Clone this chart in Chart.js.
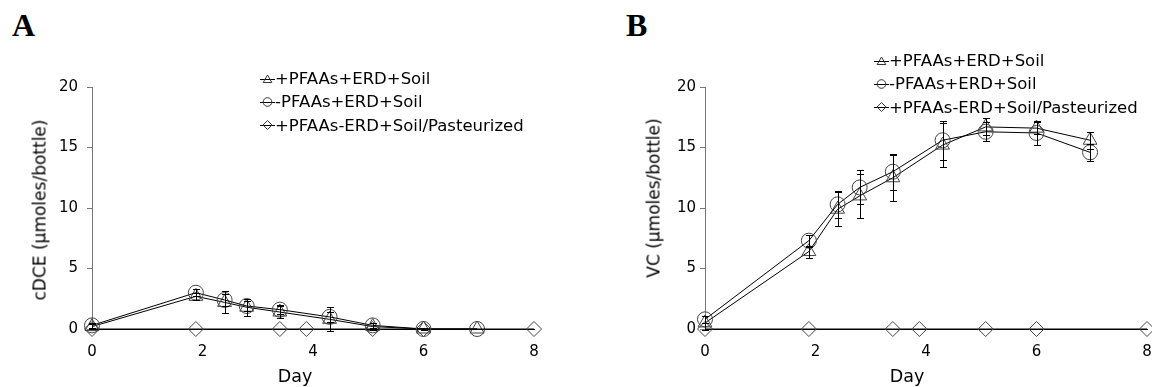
<!DOCTYPE html>
<html>
<head>
<meta charset="utf-8">
<script src="https://cdn.jsdelivr.net/npm/chart.js@4.4.0/dist/chart.umd.min.js"></script>
<style>
  html, body { margin: 0; padding: 0; background: #fff; }
  body { width: 1152px; height: 387px; position: relative; overflow: hidden;
         font-family: "DejaVu Sans", "Liberation Sans", Arial, sans-serif; color: #000; }
  canvas { position: absolute; top: 0; }
  .letter { position: absolute; font-family: "Liberation Serif", "Times New Roman", serif;
            font-weight: bold; font-size: 32px; line-height: 32px; }
  .ytitle { position: absolute; font-size: 17px; line-height: 17px; white-space: nowrap;
            transform: translate(-50%, -50%) rotate(-90deg); }
  .xtitle { position: absolute; font-size: 17.5px; line-height: 18px; white-space: nowrap;
            transform: translate(-50%, -50%); }
  .legend { position: absolute; font-size: 16.5px; }
  .legend .row { display: flex; align-items: center; height: 23.3px; white-space: nowrap; }
  .legend svg { display: block; }
</style>
</head>
<body>
<div class="letter" style="left:12px; top:9px;">A</div>
<div class="letter" style="left:626px; top:9px;">B</div>

<canvas id="chartA" width="576" height="387" style="left:0;"></canvas>
<canvas id="chartB" width="600" height="387" style="left:576px;"></canvas>

<div class="ytitle" style="left:40px; top:210px;">cDCE (µmoles/bottle)</div>
<div class="ytitle" style="left:654px; top:198px;">VC (µmoles/bottle)</div>
<div class="xtitle" style="left:295px; top:376px;">Day</div>
<div class="xtitle" style="left:907px; top:376px;">Day</div>

<div class="legend" id="legendA" style="left:260px; top:67px;"></div>
<div class="legend" id="legendB" style="left:874px; top:49px;"></div>

<script>
// ---- data ----
const days = [0, 1.88, 2.4, 2.8, 3.4, 4.3, 5.08, 6.0, 6.97];
const pasteurizedDays = [0, 1.88, 3.4, 3.88, 5.08, 6.0, 8.0];
const xTicks = [0, 2, 4, 6, 8];
const yTicks = [0, 5, 10, 15, 20];
const seriesLabels = ['+PFAAs+ERD+Soil', '-PFAAs+ERD+Soil', '+PFAAs-ERD+Soil/Pasteurized'];

// A: cDCE
const cdcePfaas = [0.2, 2.7, 2.2, 1.8, 1.4, 0.8, 0.2, 0, 0];
const cdcePfaasErr = [0.2, 0.3, 0.9, 0.7, 0.5, 1.0, 0.3, 0, 0];
const cdceNoPfaas = [0.3, 3.0, 2.4, 1.9, 1.6, 1.0, 0.3, 0, 0];
const cdceNoPfaasErr = [0.2, 0.3, 0.5, 0.4, 0.4, 0.4, 0.2, 0.1, 0];
const cdcePasteurized = [0, 0, 0, 0, 0, 0, 0];

// B: VC
const vcPfaas = [0.5, 6.4, 9.9, 11.0, 12.5, 15.2, 16.7, 16.6, 15.6];
const vcPfaasErr = [0.6, 0.5, 1.4, 1.8, 1.9, 1.8, 0.7, 0.5, 0.7];
const vcNoPfaas = [0.8, 7.3, 10.3, 11.7, 13.0, 15.6, 16.3, 16.2, 14.6];
const vcNoPfaasErr = [0.3, 0.5, 1.1, 1.4, 1.5, 1.6, 0.8, 1.0, 0.7];
const vcPasteurized = [0, 0, 0, 0, 0, 0, 0];

const FONT = '"DejaVu Sans", "Liberation Sans", Arial, sans-serif';
const markerStyles = ['triangle', 'circle', 'rectRot'];
const markerRadius = [8, 7.5, 7.5];

// error bars are not built into Chart.js, draw them from the scales
const errorBars = {
  id: 'errorBars',
  afterDatasetsDraw(chart) {
    const { ctx, scales: { x, y } } = chart;
    ctx.save();
    ctx.strokeStyle = '#000';
    ctx.lineWidth = 1;
    chart.data.datasets.forEach(ds => {
      if (!ds.errors) return;
      ds.data.forEach((p, i) => {
        const e = ds.errors[i];
        if (!e) return;
        const px = Math.round(x.getPixelForValue(p.x)) + 0.5;
        const top = Math.round(y.getPixelForValue(p.y + e)) + 0.5;
        const bot = Math.round(y.getPixelForValue(p.y - e)) + 0.5;
        ctx.beginPath();
        ctx.moveTo(px, top); ctx.lineTo(px, bot);
        ctx.moveTo(px - 3.5, top); ctx.lineTo(px + 3.5, top);
        ctx.moveTo(px - 3.5, bot); ctx.lineTo(px + 3.5, bot);
        ctx.stroke();
      });
    });
    ctx.restore();
  }
};

function series(label, xs, ys, errs, idx) {
  return {
    label,
    data: xs.map((d, i) => ({ x: d, y: ys[i] })),
    errors: errs,
    borderColor: '#000',
    borderWidth: 1,
    pointStyle: markerStyles[idx],
    pointRadius: markerRadius[idx],
    pointBorderColor: '#444',
    pointBackgroundColor: 'rgba(0,0,0,0)',
    pointBorderWidth: 1,
    tension: 0,
    clip: false,
  };
}

function makePanel(id, sets, axisWidth, padRight, tickPad) {
  return new Chart(document.getElementById(id), {
    type: 'line',
    data: { datasets: sets },
    plugins: [errorBars],
    options: {
      responsive: false,
      animation: false,
      devicePixelRatio: 1,
      layout: { padding: { left: 0, right: padRight, top: 87, bottom: 0 } },
      plugins: { legend: { display: false }, tooltip: { enabled: false } },
      scales: {
        x: {
          type: 'linear', min: 0, max: 8,
          afterBuildTicks: s => { s.ticks = xTicks.map(v => ({ value: v })); },
          afterFit: s => { s.height = 58; },
          ticks: { color: '#000', padding: 14, font: { family: FONT, size: 15 } },
          grid: { drawOnChartArea: false, drawTicks: false },
          border: { color: '#000', width: 1 },
        },
        y: {
          min: 0, max: 20,
          afterBuildTicks: s => { s.ticks = yTicks.map(v => ({ value: v })); },
          afterFit: s => { s.width = axisWidth; },
          ticks: { color: '#000', padding: tickPad, font: { family: FONT, size: 15 } },
          grid: { drawOnChartArea: false, drawTicks: true, tickLength: 5, color: '#777' },
          border: { color: '#777', width: 1 },
        }
      }
    }
  });
}

makePanel('chartA', [
  series(seriesLabels[2], pasteurizedDays, cdcePasteurized, null, 2),
  series(seriesLabels[1], days, cdceNoPfaas, cdceNoPfaasErr, 1),
  series(seriesLabels[0], days, cdcePfaas, cdcePfaasErr, 0),
], 92, 42, 9);

makePanel('chartB', [
  series(seriesLabels[2], pasteurizedDays, vcPasteurized, null, 2),
  series(seriesLabels[1], days, vcNoPfaas, vcNoPfaasErr, 1),
  series(seriesLabels[0], days, vcPfaas, vcPfaasErr, 0),
], 129, 29, 4);

// legends: small line-through-marker icons with real text
const icons = [
  '<polygon points="7.5,2 11.8,9.5 3.2,9.5" fill="none" stroke="#333"/>',
  '<circle cx="7.5" cy="6" r="4.3" fill="none" stroke="#333"/>',
  '<polygon points="7.5,1.5 12,6 7.5,10.5 3,6" fill="none" stroke="#333"/>',
];
function buildLegend(id) {
  const box = document.getElementById(id);
  seriesLabels.forEach((txt, i) => {
    const row = document.createElement('div');
    row.className = 'row';
    row.innerHTML = '<svg width="15" height="12"><line x1="0" y1="6.5" x2="15" y2="6.5" stroke="#000"/>' +
      icons[i] + '</svg><span>' + txt + '</span>';
    box.appendChild(row);
  });
}
buildLegend('legendA');
buildLegend('legendB');
</script>
</body>
</html>
